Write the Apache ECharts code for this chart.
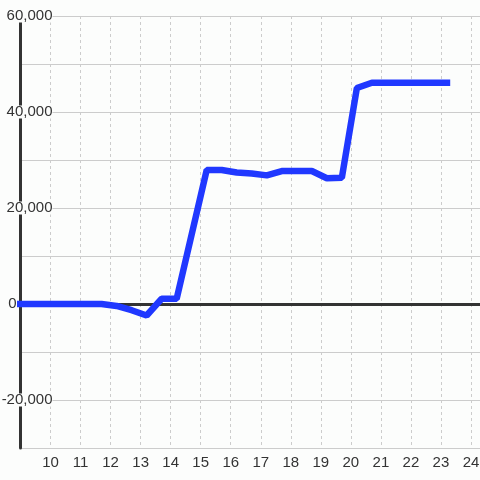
<!DOCTYPE html>
<html>
<head>
<meta charset="utf-8">
<script src="https://cdn.jsdelivr.net/npm/echarts@6/dist/echarts.min.js"></script>
<style>
  html, body { margin: 0; padding: 0; background: #fcfdfc; }
  #chart { width: 480px; height: 480px; }
</style>
</head>
<body>
<div id="chart"></div>
<script>
// hour of day (decimal) and value
const hours = [8.7, 9.2, 9.7, 10.2, 10.7, 11.2, 11.7, 12.2, 12.7, 13.2, 13.7, 14.2,
  15.2, 15.7, 16.2, 16.7, 17.2, 17.7, 18.2, 18.7, 19.2, 19.7, 20.2, 20.7,
  21.2, 21.7, 22.2, 22.7, 23.2]
const values = [0, 0, 0, 0, 0, 0, 0, -400, -1300, -2400, 1100, 1100,
  27900, 27900, 27400, 27200, 26800, 27700, 27700, 27700, 26200, 26300, 45000, 46100,
  46100, 46100, 46100, 46100, 46100]

const xTicks = [10, 11, 12, 13, 14, 15, 16, 17, 18, 19, 20, 21, 22, 23, 24]
const yTicks = [-20000, 20000, 40000, 60000]

const bg = '#fcfdfc'
const textColor = '#333'
const font = 'Liberation Sans, Arial, sans-serif'

const chart = echarts.init(document.getElementById('chart'))

const option = {
  animation: false,
  backgroundColor: bg,
  grid: { left: 20.5, right: 0, top: 16, bottom: 32, outerBoundsMode: 'none', containLabel: false },
  xAxis: [
    {
      type: 'value',
      min: 9,
      max: 24.3,
      interval: 1,
      position: 'bottom',
      axisLine: { show: false },
      axisTick: { show: false },
      splitLine: {
        show: true,
        lineStyle: { color: '#cccccc', width: 1, type: [3, 3] }
      },
      axisLabel: {
        margin: 7,
        fontSize: 15,
        fontFamily: font,
        color: textColor,
        formatter: v => (xTicks.includes(v) ? String(v) : '')
      }
    },
    {
      // zero line
      type: 'value',
      min: 9,
      max: 24.3,
      interval: 1,
      position: 'top',
      axisLine: { show: true, onZero: true, lineStyle: { color: '#333', width: 3 } },
      axisTick: { show: false },
      axisLabel: { show: false },
      splitLine: { show: false }
    }
  ],
  yAxis: [
    {
      type: 'value',
      min: -30000,
      max: 60000,
      interval: 10000,
      position: 'left',
      z: 1,
      axisLine: { show: true, onZero: false, lineStyle: { color: '#333', width: 3 } },
      axisTick: { show: false },
      splitLine: { show: false },
      axisLabel: {
        margin: -32,
        fontSize: 15,
        fontFamily: font,
        color: textColor,
        backgroundColor: bg,
        lineHeight: 13,
        formatter: v => (yTicks.includes(v) ? v.toLocaleString('en-US') : '')
      }
    },
    {
      type: 'value',
      min: -30000,
      max: 60000,
      interval: 10000,
      position: 'left',
      offset: 0,
      z: 0,
      axisLine: { show: false },
      axisTick: { show: false },
      splitLine: { show: true, lineStyle: { color: '#cccccc', width: 1 } },
      axisLabel: {
        margin: 4,
        fontSize: 15,
        fontFamily: font,
        color: textColor,
        formatter: v => (v === 0 ? '0' : '')
      }
    }
  ],
  series: [
    {
      type: 'line',
      xAxisIndex: 0,
      yAxisIndex: 0,
      data: hours.map((h, i) => [h, values[i]]),
      symbol: 'none',
      clip: true,
      lineStyle: { color: '#2038ff', width: 6.5, cap: 'square' }
    }
  ]
}

chart.setOption(option)
</script>
</body>
</html>
